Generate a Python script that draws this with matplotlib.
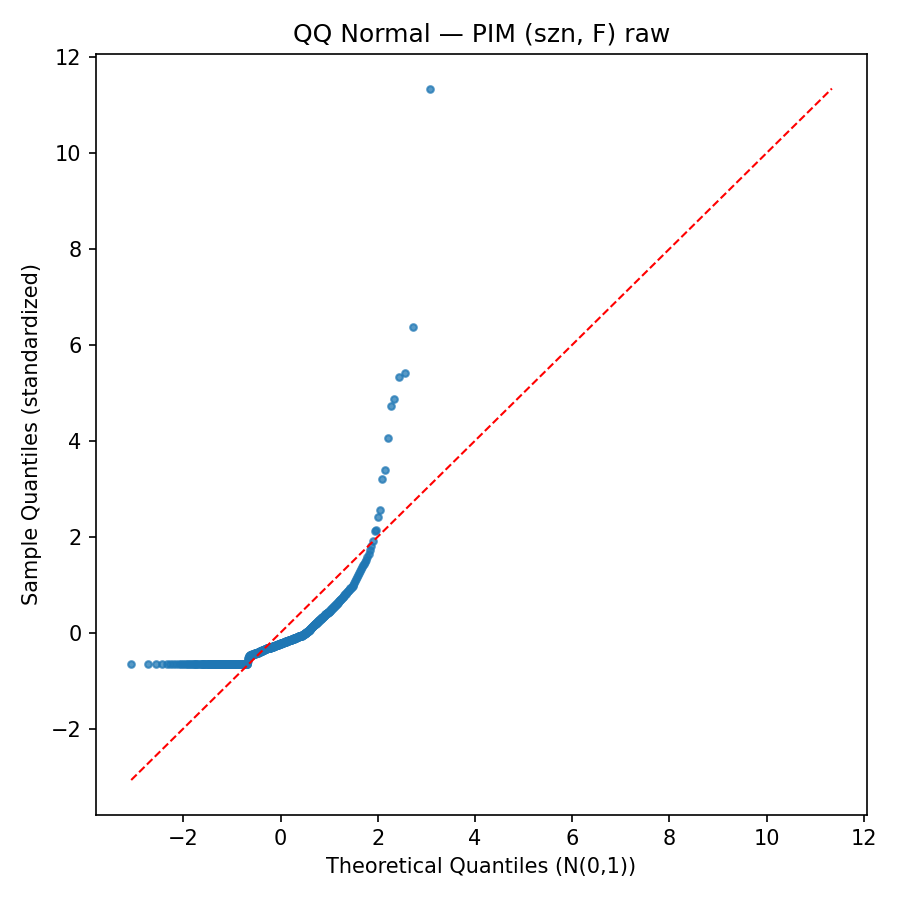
#!/usr/bin/env python3
"""
QQ normal plot of standardized PIM values (season, F), raw.
"""

import matplotlib
matplotlib.use("Agg")
import matplotlib.pyplot as plt
from statistics import NormalDist

# sample values (sorted, standardized)
# the lowest 117 observations all sit at the same floor value
floor_value = -0.65
floor_count = 117

upper_values = [
    -0.60, -0.55, -0.52, -0.50, -0.49, -0.48, -0.48, -0.47, -0.47, -0.47, -0.46, -0.46, -0.46,
    -0.46, -0.46, -0.45, -0.45, -0.45, -0.45, -0.44, -0.44, -0.44, -0.44,
    -0.44, -0.43, -0.43, -0.43, -0.43, -0.43, -0.42, -0.42, -0.42, -0.42,
    -0.42, -0.41, -0.41, -0.41, -0.40, -0.40, -0.40, -0.40, -0.39, -0.39,
    -0.39, -0.39, -0.38, -0.38, -0.38, -0.38, -0.37, -0.37, -0.37, -0.37,
    -0.36, -0.36, -0.36, -0.36, -0.35, -0.35, -0.35, -0.35, -0.34, -0.34,
    -0.34, -0.34, -0.33, -0.33, -0.33, -0.33, -0.33, -0.32, -0.32, -0.32,
    -0.32, -0.32, -0.31, -0.31, -0.31, -0.31, -0.30, -0.30, -0.30, -0.30,
    -0.30, -0.29, -0.29, -0.29, -0.29, -0.29, -0.28, -0.28, -0.28, -0.28,
    -0.28, -0.27, -0.27, -0.27, -0.27, -0.27, -0.26, -0.26, -0.26, -0.26,
    -0.26, -0.25, -0.25, -0.25, -0.25, -0.25, -0.24, -0.24, -0.24, -0.24,
    -0.24, -0.23, -0.23, -0.23, -0.23, -0.23, -0.22, -0.22, -0.22, -0.22,
    -0.22, -0.21, -0.21, -0.21, -0.21, -0.21, -0.20, -0.20, -0.20, -0.20,
    -0.20, -0.19, -0.19, -0.19, -0.19, -0.19, -0.18, -0.18, -0.18, -0.18,
    -0.18, -0.17, -0.17, -0.17, -0.17, -0.17, -0.16, -0.16, -0.16, -0.16,
    -0.16, -0.16, -0.15, -0.15, -0.15, -0.15, -0.15, -0.14, -0.14, -0.14,
    -0.14, -0.14, -0.13, -0.13, -0.13, -0.13, -0.12, -0.12, -0.12, -0.12,
    -0.12, -0.11, -0.11, -0.11, -0.11, -0.10, -0.10, -0.10, -0.10, -0.09,
    -0.09, -0.09, -0.09, -0.08, -0.08, -0.08, -0.08, -0.07, -0.07, -0.07,
    -0.07, -0.06, -0.06, -0.06, -0.05, -0.05, -0.05, -0.04, -0.04, -0.04,
    -0.03, -0.03, -0.03, -0.02, -0.02, -0.01, -0.01, -0.01, 0.00, 0.00,
    0.01, 0.01, 0.02, 0.02, 0.03, 0.03, 0.04, 0.04, 0.05, 0.05,
    0.06, 0.07, 0.07, 0.08, 0.09, 0.09, 0.10, 0.11, 0.11, 0.12,
    0.13, 0.14, 0.14, 0.15, 0.16, 0.16, 0.17, 0.18, 0.19, 0.19,
    0.20, 0.21, 0.21, 0.22, 0.23, 0.23, 0.24, 0.25, 0.25, 0.26,
    0.27, 0.27, 0.28, 0.29, 0.29, 0.30, 0.31, 0.31, 0.32, 0.33,
    0.33, 0.34, 0.35, 0.35, 0.36, 0.37, 0.38, 0.38, 0.39, 0.40,
    0.41, 0.41, 0.42, 0.43, 0.44, 0.44, 0.45, 0.46, 0.47, 0.48,
    0.49, 0.50, 0.51, 0.52, 0.53, 0.54, 0.55, 0.56, 0.57, 0.58,
    0.59, 0.60, 0.61, 0.62, 0.64, 0.65, 0.66, 0.67, 0.69, 0.70,
    0.71, 0.73, 0.74, 0.75, 0.77, 0.78, 0.80, 0.81, 0.83, 0.84,
    0.86, 0.87, 0.89, 0.90, 0.92, 0.93, 0.95,
    0.97, 1.00, 1.04, 1.08, 1.12, 1.17, 1.21, 1.25, 1.29, 1.33,
    1.37, 1.40, 1.44, 1.48, 1.52, 1.58, 1.64, 1.72, 1.81, 1.91,
    2.12, 2.13, 2.41, 2.56, 3.21, 3.38, 4.05, 4.73, 4.87, 5.33,
    5.42, 6.38, 11.34,
]

sample = [floor_value] * floor_count + upper_values
n = len(sample)

# theoretical normal quantiles at plotting positions (i - 0.5) / n
norm = NormalDist()
theoretical = [norm.inv_cdf((i + 0.5) / n) for i in range(n)]

fig, ax = plt.subplots(figsize=(6, 6), dpi=150)

ax.scatter(theoretical, sample, s=10, alpha=0.75, color='tab:blue')

lo = min(min(theoretical), min(sample))
hi = max(max(theoretical), max(sample))
ax.plot([lo, hi], [lo, hi], color='red', linestyle='--', linewidth=1)

ax.set_title('QQ Normal \u2014 PIM (szn, F) raw')
ax.set_xlabel('Theoretical Quantiles (N(0,1))')
ax.set_ylabel('Sample Quantiles (standardized)')

plt.tight_layout()
plt.savefig('out.png', dpi=150)
plt.close()
